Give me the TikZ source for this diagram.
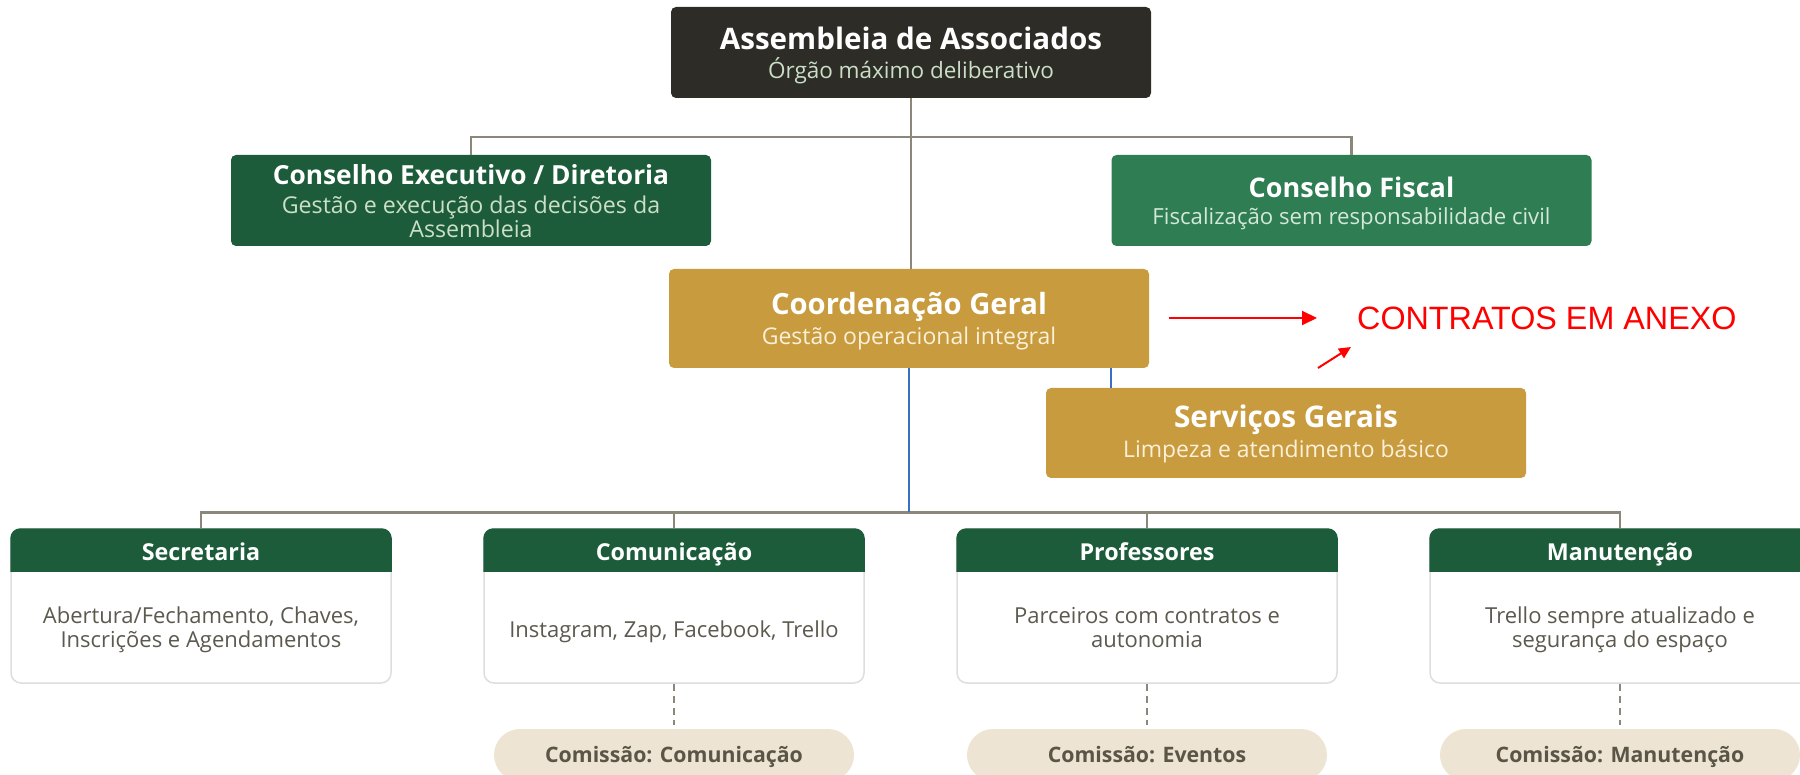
\documentclass[tikz,border=0pt]{standalone}
\usepackage{fontspec}
\setmainfont{Open Sans}
\newfontfamily\arialfont{Liberation Sans}
\usetikzlibrary{arrows.meta,calc}
\definecolor{asmbg}{HTML}{2D2C27}
\definecolor{dkgreen}{HTML}{1C5C3A}
\definecolor{mdgreen}{HTML}{2E7D53}
\definecolor{gold}{HTML}{C89B3E}
\definecolor{pillbg}{HTML}{EDE4D3}
\definecolor{cardline}{HTML}{DEDEDE}
\definecolor{connector}{HTML}{8C877B}
\definecolor{bluelink}{HTML}{3B6FC6}
\definecolor{bodytext}{HTML}{5C5A4E}
\definecolor{pilltext}{HTML}{5A5546}
\definecolor{subgreen}{HTML}{CADFC6}
\definecolor{subfis}{HTML}{D3E8D8}
\definecolor{subgold}{HTML}{FBF0DA}
\definecolor{redmark}{HTML}{FF0000}
\begin{document}
\begin{tikzpicture}[x=1pt,y=-1pt,
  orgbox/.style={rectangle, rounded corners=5pt, inner sep=0pt, minimum width=480pt, minimum height=91pt},
  ttl/.style={anchor=base, inner sep=0pt, text=white, font=\bfseries\fontsize{27}{32}\selectfont},
  sub/.style={anchor=base, inner sep=0pt, font=\fontsize{22.5}{26}\selectfont},
  card/.style={rectangle, rounded corners=10pt, draw=cardline, line width=1.5pt, fill=white, inner sep=0pt, minimum width=380pt, minimum height=154pt},
  hdrtxt/.style={anchor=base, inner sep=0pt, text=white, font=\bfseries\fontsize{23.3}{26}\selectfont},
  bodytxt/.style={anchor=base, inner sep=0pt, text=bodytext, font=\fontsize{22}{26}\selectfont},
  pill/.style={rectangle, rounded corners=26pt, fill=pillbg, inner sep=0pt, minimum width=360pt, minimum height=52pt},
  pilltxt/.style={anchor=base, inner sep=0pt, text=pilltext, font=\bfseries\fontsize{21.3}{25}\selectfont},
  gl/.style={draw=connector, line width=2.5pt},
  bl/.style={draw=bluelink, line width=1.5pt},
  rarrow/.style={draw=redmark, line width=2pt}
]
\useasboundingbox (0,0) rectangle (1800,775);

% ---------- top boxes ----------
\node[orgbox, fill=asmbg] (asm) at (911,52.5) {};
\node[ttl, font=\bfseries\fontsize{29.6}{34}\selectfont] (asmT) at (911,50) {Assembleia de Associados};
\node[sub, text=subgreen] (asmS) at (911,79) {Órgão máximo deliberativo};

\node[orgbox, fill=dkgreen] (exe) at (471,200.5) {};
\node[ttl, font=\bfseries\fontsize{26.3}{30}\selectfont] (exeT) at (471,185) {Conselho Executivo / Diretoria};
\node[sub, text=subgreen, font=\fontsize{23.2}{26}\selectfont] (exeS1) at (471,214) {Gestão e execução das decisões da};
\node[sub, text=subgreen, font=\fontsize{23.2}{26}\selectfont] (exeS2) at (471,238) {Assembleia};

\node[orgbox, fill=mdgreen] (fis) at (1351.5,200.5) {};
\node[ttl] (fisT) at (1351.5,198) {Conselho Fiscal};
\node[sub, text=subfis, font=\fontsize{22.2}{26}\selectfont] (fisS) at (1351.5,225) {Fiscalização sem responsabilidade civil};

\node[orgbox, fill=gold, minimum height=99pt] (coord) at (909,318.5) {};
\node[ttl, font=\bfseries\fontsize{29.2}{34}\selectfont] (coordT) at (909,315) {Coordenação Geral};
\node[sub, text=subgold, font=\fontsize{23}{26}\selectfont] (coordS) at (909,345) {Gestão operacional integral};

\node[orgbox, fill=gold, minimum height=90pt] (serv) at (1286,433) {};
\node[ttl, font=\bfseries\fontsize{29.8}{34}\selectfont] (servT) at (1286,428) {Serviços Gerais};
\node[sub, text=subgold, font=\fontsize{22.9}{26}\selectfont] (servS) at (1286,458) {Limpeza e atendimento básico};

% ---------- red annotation ----------
\node[anchor=base west, inner sep=0pt, text=redmark, font=\arialfont\fontsize{32.3}{36}\selectfont] (contr) at (1357,330) {CONTRATOS EM ANEXO};
\coordinate (ra1s) at (1169,318);
\coordinate (ra1e) at (1317,318);
\coordinate (ra2s) at (1318,368);
\coordinate (ra2e) at (1351,347);
\draw[rarrow, -{Triangle[length=15pt,width=14pt]}] (ra1s) -- (ra1e);
\draw[rarrow, -{Triangle[length=12pt,width=11pt]}] (ra2s) -- (ra2e);

% ---------- cards ----------
\foreach \i/\cx in {1/201, 2/674, 3/1147, 4/1620} {
  \node[card] (c\i) at (\cx,606) {};
  \begin{scope}
    \clip[rounded corners=10pt] (c\i.south west) rectangle (c\i.north east);
    \fill[dkgreen] ($(c\i.north west)+(-2,-2)$) rectangle ($(c\i.north east)+(2,44)$);
  \end{scope}
}
\node[hdrtxt] (h1) at (201,560) {Secretaria};
\node[hdrtxt] (h2) at (674,560) {Comunicação};
\node[hdrtxt] (h3) at (1147,560) {Professores};
\node[hdrtxt] (h4) at (1620,560) {Manutenção};

\node[bodytxt] (b1a) at (201,623) {Abertura/Fechamento, Chaves,};
\node[bodytxt] (b1b) at (201,647) {Inscrições e Agendamentos};
\node[bodytxt] (b2a) at (674,637) {Instagram, Zap, Facebook, Trello};
\node[bodytxt] (b3a) at (1147,623) {Parceiros com contratos e};
\node[bodytxt] (b3b) at (1147,647) {autonomia};
\node[bodytxt] (b4a) at (1620,623) {Trello sempre atualizado e};
\node[bodytxt] (b4b) at (1620,647) {segurança do espaço};

% ---------- pills ----------
\node[pill] (p2) at (674,755) {};
\node[pill] (p3) at (1147,755) {};
\node[pill] (p4) at (1620,755) {};
\node[pilltxt] (p2t) at (674,762) {Comissão: Comunicação};
\node[pilltxt] (p3t) at (1147,762) {Comissão: Eventos};
\node[pilltxt] (p4t) at (1620,762) {Comissão: Manutenção};

% ---------- connectors ----------
\draw[gl] (asm.south) -- (asm.south |- coord.north);
\draw[gl] (exe.north) -- ++(0,-18) -| (fis.north);

\draw[gl] (c1.north) -- ++(0,-16) -| (c4.north);
\draw[gl] (c2.north) -- ++(0,-16);
\draw[gl] (c3.north) -- ++(0,-16);

\coordinate (bus) at ($(c1.north)+(0,-16)$);
\draw[bl] (coord.south) -- (coord.south |- bus);
\coordinate (sv) at ($(coord.south east)+(-38,0)$);
\draw[bl] (sv) -- (sv |- serv.north);

\foreach \i in {2,3,4} {
  \draw[gl, dash pattern=on 7pt off 5pt] (c\i.south) -- ($(p\i.north)+(0,-4)$);
}
\end{tikzpicture}
\end{document}
